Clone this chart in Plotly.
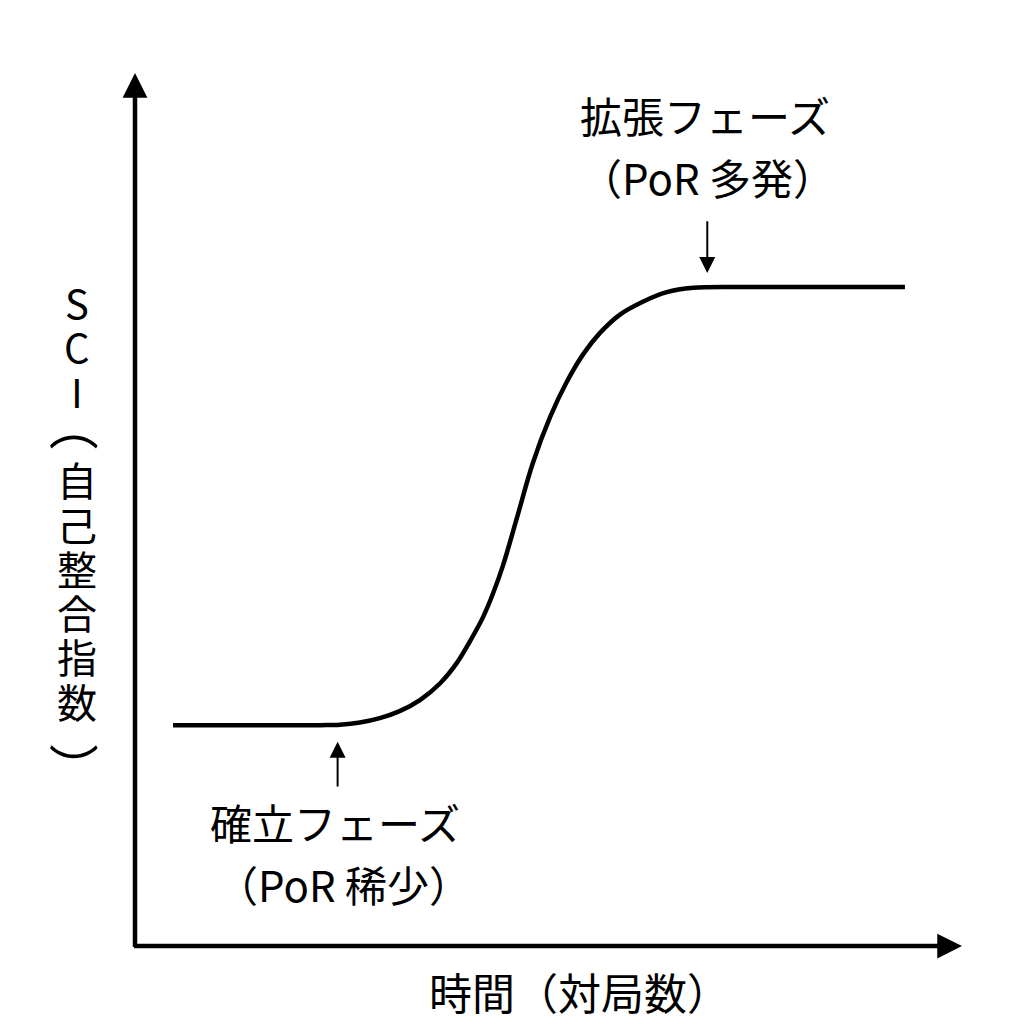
import plotly.graph_objects as go

# Sigmoid curve (schematic): time vs SCI
time_x = [4.6, 22.4, 24.8, 27.2, 29.6, 32.0, 34.5, 36.9, 38.9, 40.5, 42.1, 43.3, 44.5,
          46.2, 48.1, 50.2, 52.2, 54.2, 56.2, 58.6, 61.4, 64.3, 67.5, 73.2, 93.1]
sci_y = [25.3, 25.3, 25.35, 25.6, 26.1, 26.9, 28.2, 30.1, 32.4, 34.9, 37.7, 40.4, 43.6,
         49.1, 55.3, 60.6, 64.6, 67.8, 70.2, 72.3, 73.8, 74.9, 75.4, 75.5, 75.5]

# Phase labels
phase_titles = ["確立フェーズ", "拡張フェーズ"]
phase_subtitles = ["（PoR 稀少）", "（PoR 多発）"]
title_x = [24.2, 68.9]
title_y = [14.3, 95.3]
sub_x = [25.2, 69.2]
sub_y = [7.2, 88.1]
# pointer arrows: tip and tail
ptr_x = [24.5, 69.2]
ptr_tip_y = [23.4, 77.1]
ptr_tail_y = [18.1, 83.2]

x_title = "時間（対局数）"
y_title_chars = ["S", "C", "I", "（", "自", "己", "整", "合", "指", "数", "）"]

FONT = "Noto Sans CJK JP"

fig = go.Figure()
fig.add_trace(go.Scatter(
    x=time_x, y=sci_y, mode="lines",
    line=dict(color="black", width=4.5, shape="spline", smoothing=1.0),
    hoverinfo="skip", showlegend=False,
))

ann = []
# axes arrows
ann.append(dict(x=100, y=0, ax=-0.3, ay=0, xref="x", yref="y", axref="x", ayref="y",
                text="", showarrow=True, arrowhead=2, arrowwidth=4.5, arrowsize=1.1,
                arrowcolor="black"))
ann.append(dict(x=0, y=100, ax=0, ay=-0.3, xref="x", yref="y", axref="x", ayref="y",
                text="", showarrow=True, arrowhead=2, arrowwidth=4.5, arrowsize=1.1,
                arrowcolor="black"))

for i in range(2):
    ann.append(dict(x=title_x[i], y=title_y[i], xref="x", yref="y", text=phase_titles[i],
                    xanchor="center", yanchor="middle", showarrow=False,
                    font=dict(family=FONT, size=42, color="black")))
    ann.append(dict(x=sub_x[i], y=sub_y[i], xref="x", yref="y", text=phase_subtitles[i],
                    xanchor="center", yanchor="middle", showarrow=False,
                    font=dict(family=FONT, size=42, color="black")))
    ann.append(dict(x=ptr_x[i], y=ptr_tip_y[i], ax=ptr_x[i], ay=ptr_tail_y[i],
                    xref="x", yref="y", axref="x", ayref="y", text="", showarrow=True,
                    arrowhead=2, arrowwidth=2, arrowsize=1.6, arrowcolor="black"))

ann.append(dict(x=0.537, y=-0.0515, xref="paper", yref="paper", text=x_title,
                xanchor="center", yanchor="middle", showarrow=False,
                font=dict(family=FONT, size=43, color="black")))

# vertical y title, one character per line (parentheses turned for vertical writing)
y_top_px = 302
step_px = 44.3
paren_shift = {"（": -9, "）": 23}
for i, ch in enumerate(y_title_chars):
    is_paren = ch in paren_shift
    py = y_top_px + i * step_px + paren_shift.get(ch, 0)
    ann.append(dict(x=-0.070, y=(946 - py) / 873, xref="paper", yref="paper", text=ch,
                    xanchor="center", yanchor="middle", showarrow=False,
                    textangle=90 if is_paren else 0,
                    font=dict(family=FONT, size=50 if is_paren else 40, color="black")))

fig.update_layout(
    width=1024, height=1024,
    margin=dict(l=127, r=70, t=65, b=86),
    paper_bgcolor="white", plot_bgcolor="white",
    xaxis=dict(range=[0, 100], visible=False, fixedrange=True),
    yaxis=dict(range=[0, 100], visible=False, fixedrange=True),
    annotations=ann,
    showlegend=False,
)

fig.write_html("out.html")
